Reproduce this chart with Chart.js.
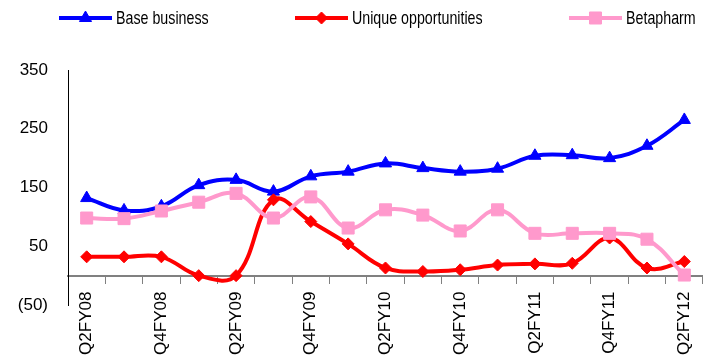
<!DOCTYPE html>
<html>
<head>
<meta charset="utf-8">
<script src="https://cdn.jsdelivr.net/npm/chart.js@4/dist/chart.umd.min.js"></script>
<style>
  html, body { margin: 0; padding: 0; background: #fff; }
  #wrap { width: 714px; height: 358px; position: relative; }
  canvas { display: block; }
</style>
</head>
<body>
<div id="wrap"><canvas id="c" width="714" height="358"></canvas></div>
<script>
// Quarterly revenue by segment
const quarters = ['Q2FY08','Q3FY08','Q4FY08','Q1FY09','Q2FY09','Q3FY09','Q4FY09','Q1FY10','Q2FY10',
                  'Q3FY10','Q4FY10','Q1FY11','Q2FY11','Q3FY11','Q4FY11','Q1FY12','Q2FY12'];
const baseBusiness        = [132, 111, 118, 154, 163, 143, 169, 177, 191, 183, 177, 182, 204, 205, 200, 221, 265];
const uniqueOpportunities = [ 32,  32,  32,   0,   0, 129,  92,  54,  13,   7,  10,  18,  20,  21,  64,  13,  24];
const betapharm           = [ 98,  97, 110, 125, 140,  98, 134,  81, 112, 103,  76, 112,  72,  72,  72,  62,   1];
const yTicks = [-50, 50, 150, 250, 350];

const FAMILY = '"Liberation Sans Narrow", "Arial Narrow", "Liberation Sans", Arial, sans-serif';

// Key drawn across the top: line sample with marker, then the series name
// (names set in a horizontally condensed face)
const seriesKey = {
  id: 'seriesKey',
  afterDraw(chart, args, opts) {
    const ctx = chart.ctx;
    chart.data.datasets.forEach((ds, i) => {
      const x0 = opts.starts[i];
      const y = opts.y;
      ctx.save();
      ctx.strokeStyle = ds.borderColor;
      ctx.lineWidth = ds.borderWidth;
      ctx.beginPath();
      ctx.moveTo(x0, y);
      ctx.lineTo(x0 + opts.lineLength, y);
      ctx.stroke();
      ctx.fillStyle = ds.pointBackgroundColor;
      ctx.strokeStyle = ds.pointBorderColor;
      ctx.lineWidth = ds.pointBorderWidth;
      Chart.helpers.drawPoint(ctx, {
        pointStyle: ds.pointStyle, radius: ds.pointRadius,
        borderWidth: ds.pointBorderWidth, rotation: 0
      }, x0 + opts.lineLength / 2, y);
      ctx.fillStyle = '#000';
      ctx.font = opts.font;
      ctx.textBaseline = 'middle';
      ctx.textAlign = 'left';
      ctx.translate(x0 + opts.lineLength + opts.gap, y + 1);
      ctx.scale(opts.squeeze, 1);
      ctx.fillText(ds.label, 0, 0);
      ctx.restore();
    });
  }
};

const tickFont = { family: FAMILY, size: 17 };

new Chart(document.getElementById('c'), {
  type: 'line',
  data: {
    labels: quarters,
    datasets: [
      { label: 'Base business', data: baseBusiness, order: 3,
        borderColor: '#0000FF', backgroundColor: '#0000FF',
        pointBackgroundColor: '#0000FF', pointBorderColor: '#0000FF',
        pointStyle: 'triangle', pointRadius: 7, pointBorderWidth: 1,
        borderWidth: 4, tension: 0.4, fill: false },
      { label: 'Unique opportunities', data: uniqueOpportunities, order: 2,
        borderColor: '#FF0000', backgroundColor: '#FF0000',
        pointBackgroundColor: '#FF0000', pointBorderColor: '#FF0000',
        pointStyle: 'rectRot', pointRadius: 6, pointBorderWidth: 1,
        borderWidth: 4, tension: 0.4, fill: false },
      { label: 'Betapharm', data: betapharm, order: 1,
        borderColor: '#FF99CC', backgroundColor: '#FF99CC',
        pointBackgroundColor: '#FF99CC', pointBorderColor: '#FF99CC',
        pointStyle: 'rect', pointRadius: 8.5, pointBorderWidth: 1,
        borderWidth: 4, tension: 0.4, fill: false }
    ]
  },
  options: {
    responsive: false,
    animation: false,
    devicePixelRatio: 1,
    layout: { padding: { top: 70, right: 6, bottom: 53, left: 0 } },
    plugins: {
      legend: { display: false },
      tooltip: { enabled: false },
      seriesKey: { starts: [59, 295, 569], y: 18, lineLength: 53, gap: 4,
                   font: '18.5px ' + FAMILY, squeeze: 0.77 }
    },
    scales: {
      x: {
        type: 'category',
        position: { y: 0 },
        offset: true,
        grid: { display: true, drawOnChartArea: false, drawTicks: true, tickLength: 7, color: '#808080', offset: true },
        border: { display: true, color: '#808080', width: 2 },
        ticks: {
          autoSkip: false, minRotation: 90, maxRotation: 90, padding: 9,
          color: '#000', font: tickFont,
          callback: (v, i) => (i % 2 === 0 ? quarters[i] : '')
        }
      },
      y: {
        min: -50, max: 350,
        afterBuildTicks: (s) => { s.ticks = yTicks.map(v => ({ value: v })); },
        afterFit: (s) => { s.width = 68; },
        grid: { display: false, drawTicks: false },
        border: { display: true, color: '#000', width: 1 },
        ticks: {
          padding: 20, color: '#000', font: tickFont,
          callback: (v) => (v < 0 ? '(' + (-v) + ')' : String(v))
        }
      }
    }
  },
  plugins: [seriesKey]
});
</script>
</body>
</html>
